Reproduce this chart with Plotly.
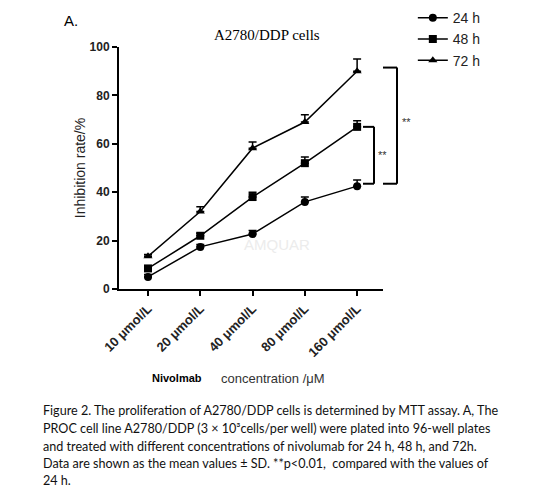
import plotly.graph_objects as go

concs = ["10 μmol/L", "20 μmol/L", "40 μmol/L", "80 μmol/L", "160 μmol/L"]
series_names = ["24 h", "48 h", "72 h"]
h24 = [5, 17.4, 22.7, 36, 42.5]
h48 = [8.5, 22, 38, 52, 67]
h72 = [13.5, 32, 58.2, 69, 90]
sd24 = [1, 1, 1.5, 2, 2.5]
sd48 = [1, 1, 2, 2.5, 2.5]
sd72 = [0.8, 2, 2.5, 3, 5]
symbols = ["circle", "square", "triangle-up"]

xs = list(range(len(concs)))
fig = go.Figure()
for name, vals, sds, sym in zip(series_names, [h24, h48, h72], [sd24, sd48, sd72], symbols):
    fig.add_trace(go.Scatter(
        x=xs, y=vals, name=name, mode="lines+markers",
        line=dict(color="black", width=1.5),
        marker=dict(symbol=sym, size=8, color="black"),
        error_y=dict(type="data", array=sds, arrayminus=[0]*len(sds), symmetric=False,
                     color="black", thickness=1.5, width=4),
        cliponaxis=False,
    ))

sans = "Liberation Sans"
fig.update_layout(
    width=553, height=491,
    margin=dict(l=119, r=170, t=47, b=202, autoexpand=False),
    paper_bgcolor="white", plot_bgcolor="white",
    font=dict(family=sans, color="black"),
    showlegend=True,
    legend=dict(x=1.113, y=1.185, xanchor="left", yanchor="top",
                font=dict(size=14, color="#222"), tracegroupgap=0,
                itemwidth=30, bgcolor="rgba(0,0,0,0)"),
    xaxis=dict(range=[-0.555, 4.495], tickvals=xs, ticktext=concs, tickangle=-45,
               showline=True, linecolor="black", linewidth=2, showgrid=False, zeroline=False,
               ticks="outside", ticklen=5, tickwidth=1.5, tickcolor="black", automargin=False,
               tickfont=dict(size=13, family=sans, weight="bold", color="#222")),
    yaxis=dict(range=[0, 100], tickvals=[0, 20, 40, 60, 80, 100],
               showline=True, linecolor="black", linewidth=2, showgrid=False, zeroline=False,
               ticks="outside", ticklen=5, tickwidth=1.5, tickcolor="black", automargin=False,
               tickfont=dict(size=12, family=sans, weight="bold", color="#222"),
               title=dict(text="Inhibition rate/%", font=dict(size=14, color="#222"), standoff=1)),
)

# significance brackets (paper x, data y)
x0 = 119
pw = 264
def px(p):
    return (p - x0) / pw

def py(p):
    return (289 - p) / 242

inner = (px(363), px(374), h48[-1], h24[-1] + 1)
outer = (px(383), px(397), h72[-1] + 1.5, h24[-1] + 1)
for xa, xb, ytop, ybot in [inner, outer]:
    for shape in [(xa, ytop, xb, ytop), (xb, ytop, xb, ybot), (xa, ybot, xb, ybot)]:
        fig.add_shape(type="line", xref="paper", yref="y",
                      x0=shape[0], y0=shape[1], x1=shape[2], y1=shape[3],
                      line=dict(color="black", width=2))
fig.add_annotation(text="**", xref="paper", yref="y", x=px(376), y=(inner[2] + inner[3]) / 2,
                   xanchor="left", yanchor="middle", showarrow=False, font=dict(size=11, color="#333"))
fig.add_annotation(text="**", xref="paper", yref="y", x=px(400), y=69,
                   xanchor="left", yanchor="middle", showarrow=False, font=dict(size=11, color="#333"))

# titles and labels
fig.add_annotation(text="A2780/DDP cells", xref="paper", yref="paper", x=px(267), y=py(35),
                   xanchor="center", yanchor="middle", showarrow=False,
                   font=dict(size=15, family="Liberation Serif"))
fig.add_annotation(text="A.", xref="paper", yref="paper", x=px(62), y=py(20),
                   xanchor="left", yanchor="middle", showarrow=False, font=dict(size=15, family=sans))
fig.add_annotation(text="AMQUAR", xref="paper", yref="paper", x=px(277), y=py(245),
                   xanchor="center", yanchor="middle", showarrow=False,
                   font=dict(size=15, family=sans, color="#ececec"))
fig.add_annotation(text="<b>Nivolmab</b>", xref="paper", yref="paper", x=px(177), y=py(378),
                   xanchor="center", yanchor="middle", showarrow=False, font=dict(size=11, family=sans))
fig.add_annotation(text="concentration /μM", xref="paper", yref="paper", x=px(219), y=py(378),
                   xanchor="left", yanchor="middle", showarrow=False,
                   font=dict(size=13, family=sans, color="#333"))

caption = [
    "Figure 2. The proliferation of A2780/DDP cells is determined by MTT assay. A, The",
    "PROC cell line A2780/DDP (3 × 10³cells/per well) were plated into 96-well plates",
    "and treated with different concentrations of nivolumab for 24 h, 48 h, and 72h.",
    "Data are shown as the mean values ± SD. **p<0.01,  compared with the values of",
    "24 h.",
]
cap_y = [411, 429, 446, 463, 480]
for line, yy in zip(caption, cap_y):
    fig.add_annotation(text=line, xref="paper", yref="paper", x=px(41), y=py(yy),
                       xanchor="left", yanchor="middle", showarrow=False,
                       font=dict(size=12.6, family="Lato", color="#111"))

fig.write_html("out.html", config={"displayModeBar": False},
               post_script="document.body.style.margin='0px';")
